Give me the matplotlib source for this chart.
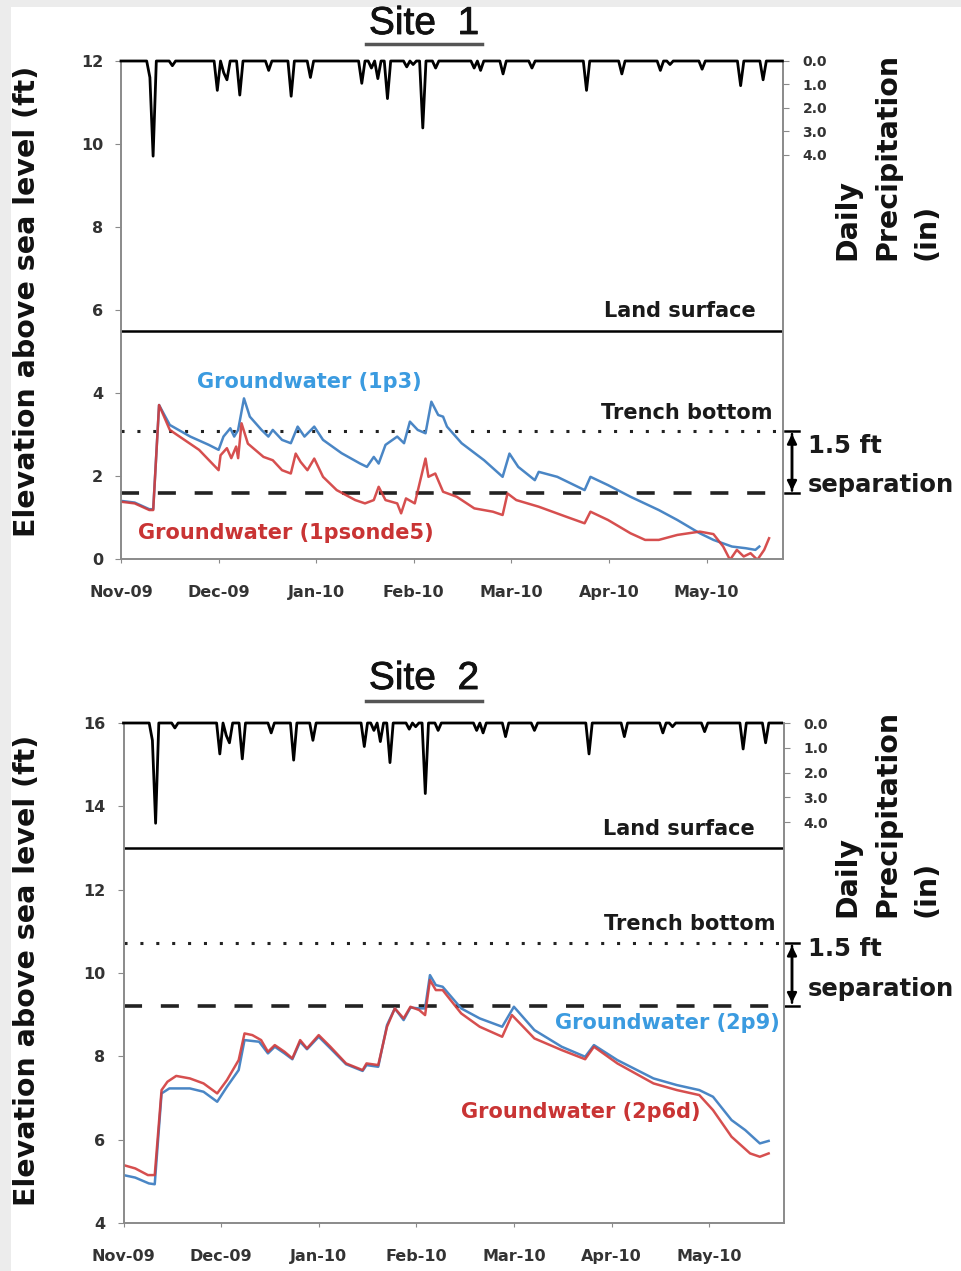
import numpy as np
import matplotlib
matplotlib.use("Agg")
import matplotlib.pyplot as plt
import matplotlib.patheffects as pe
from matplotlib.lines import Line2D
from matplotlib.patches import Rectangle

# ---------------- data ----------------
month_labels = ["Nov-09", "Dec-09", "Jan-10", "Feb-10", "Mar-10", "Apr-10", "May-10"]

# daily precipitation events: position in months after 1 Nov 2009, inches
precip_pos = [0.31, 0.34, 0.52, 0.99, 1.06, 1.09, 1.22, 1.52, 1.73, 1.93, 2.48, 2.58,
              2.62, 2.74, 2.92, 2.98, 3.10, 3.23, 3.62, 3.67, 3.90, 4.21, 4.77, 5.13,
              5.53, 5.64, 5.94, 6.35, 6.59]
precip_in = [0.7, 4.05, 0.2, 1.25, 0.5, 0.8, 1.45, 0.4, 1.5, 0.7, 0.95, 0.3,
             0.75, 1.6, 0.25, 0.15, 2.85, 0.3, 0.3, 0.4, 0.55, 0.3, 1.25, 0.55,
             0.4, 0.15, 0.35, 1.05, 0.8]

# Site 1 groundwater
s1_red_x = [0.0, 0.14, 0.29, 0.33, 0.39, 0.50, 0.65, 0.80, 1.0, 1.02, 1.085, 1.13, 1.18, 1.20,
            1.235, 1.30, 1.46, 1.555, 1.65, 1.74, 1.79, 1.84, 1.91, 1.98, 2.07, 2.21, 2.40,
            2.50, 2.59, 2.64, 2.71, 2.83, 2.87, 2.92, 3.01, 3.12, 3.15, 3.22, 3.30, 3.44,
            3.62, 3.81, 3.91, 3.96, 4.05, 4.28, 4.56, 4.75, 4.81, 4.99, 5.22, 5.37, 5.51,
            5.70, 5.93, 6.07, 6.17, 6.24, 6.31, 6.38, 6.45, 6.52, 6.59, 6.64]
s1_red_y = [1.38, 1.34, 1.18, 1.18, 3.71, 3.11, 2.87, 2.63, 2.14, 2.50, 2.67, 2.43, 2.71, 2.43,
            3.27, 2.78, 2.46, 2.38, 2.14, 2.06, 2.54, 2.34, 2.14, 2.42, 1.98, 1.66, 1.42,
            1.34, 1.42, 1.74, 1.42, 1.34, 1.10, 1.46, 1.34, 2.42, 1.98, 2.06, 1.62, 1.50,
            1.22, 1.14, 1.06, 1.58, 1.42, 1.26, 1.02, 0.86, 1.14, 0.94, 0.62, 0.46, 0.46,
            0.58, 0.66, 0.60, 0.30, -0.02, 0.22, 0.06, 0.14, -0.02, 0.22, 0.50]
s1_blue_x = [0.0, 0.14, 0.29, 0.33, 0.39, 0.50, 0.71, 0.90, 1.0, 1.05, 1.12, 1.16, 1.20, 1.26,
             1.32, 1.44, 1.51, 1.555, 1.65, 1.74, 1.81, 1.88, 1.98, 2.07, 2.26, 2.45, 2.52,
             2.59, 2.64, 2.71, 2.83, 2.90, 2.96, 3.04, 3.12, 3.18, 3.25, 3.30, 3.34, 3.49,
             3.72, 3.91, 3.98, 4.07, 4.24, 4.28, 4.47, 4.75, 4.81, 4.99, 5.22, 5.51, 5.70,
             5.93, 6.07, 6.26, 6.40, 6.50, 6.54]
s1_blue_y = [1.40, 1.36, 1.20, 1.20, 3.71, 3.23, 2.95, 2.75, 2.63, 2.95, 3.15, 2.95, 3.11, 3.87,
             3.43, 3.11, 2.95, 3.11, 2.87, 2.79, 3.19, 2.95, 3.19, 2.87, 2.55, 2.30, 2.22,
             2.46, 2.30, 2.75, 2.95, 2.79, 3.31, 3.11, 3.03, 3.79, 3.47, 3.43, 3.19, 2.79,
             2.38, 1.98, 2.54, 2.22, 1.90, 2.10, 1.98, 1.66, 1.98, 1.78, 1.50, 1.18, 0.94,
             0.62, 0.46, 0.30, 0.26, 0.22, 0.30]

# Site 2 groundwater
s2_red_x = [0.0, 0.12, 0.25, 0.32, 0.39, 0.45, 0.54, 0.68, 0.82, 0.96, 1.06, 1.18, 1.24, 1.32,
            1.41, 1.48, 1.55, 1.65, 1.73, 1.81, 1.88, 2.00, 2.12, 2.28, 2.45, 2.49, 2.61,
            2.70, 2.78, 2.87, 2.94, 3.03, 3.09, 3.14, 3.20, 3.27, 3.46, 3.65, 3.88, 3.98,
            4.21, 4.49, 4.73, 4.82, 5.06, 5.43, 5.67, 5.90, 6.04, 6.23, 6.42, 6.52, 6.61]
s2_red_y = [5.39, 5.31, 5.15, 5.15, 7.19, 7.39, 7.53, 7.47, 7.35, 7.11, 7.43, 7.91, 8.55, 8.51,
            8.39, 8.11, 8.27, 8.11, 7.95, 8.39, 8.19, 8.51, 8.23, 7.83, 7.67, 7.83, 7.79,
            8.71, 9.15, 8.91, 9.19, 9.11, 8.99, 9.83, 9.59, 9.59, 9.03, 8.71, 8.47, 8.99,
            8.43, 8.15, 7.93, 8.23, 7.83, 7.35, 7.19, 7.07, 6.71, 6.07, 5.67, 5.59, 5.67]
s2_blue_x = [0.0, 0.12, 0.26, 0.32, 0.39, 0.47, 0.68, 0.82, 0.96, 1.06, 1.18, 1.24, 1.39, 1.48,
             1.55, 1.65, 1.73, 1.81, 1.88, 2.00, 2.12, 2.28, 2.45, 2.49, 2.61, 2.70, 2.78,
             2.87, 2.94, 3.03, 3.09, 3.14, 3.20, 3.27, 3.46, 3.65, 3.88, 4.00, 4.21, 4.49,
             4.73, 4.82, 5.06, 5.43, 5.67, 5.90, 6.04, 6.23, 6.37, 6.52, 6.61]
s2_blue_y = [5.15, 5.09, 4.95, 4.93, 7.11, 7.23, 7.23, 7.15, 6.91, 7.27, 7.67, 8.39, 8.35, 8.07,
             8.23, 8.07, 7.93, 8.35, 8.17, 8.47, 8.19, 7.81, 7.65, 7.79, 7.75, 8.75, 9.15,
             8.87, 9.17, 9.15, 9.15, 9.95, 9.71, 9.67, 9.15, 8.91, 8.71, 9.19, 8.63, 8.23,
             7.99, 8.27, 7.91, 7.47, 7.31, 7.19, 7.03, 6.47, 6.23, 5.91, 5.97]

sites = [
    dict(title="Site  1", ylim=(0, 12), yticks=[0, 2, 4, 6, 8, 10, 12], land=5.5, trench=3.08,
         sep=1.58, precip_max=21.2, red=(s1_red_x, s1_red_y), blue=(s1_blue_x, s1_blue_y),
         blue_label="Groundwater (1p3)", red_label="Groundwater (1psonde5)"),
    dict(title="Site  2", ylim=(4, 16), yticks=[4, 6, 8, 10, 12, 14, 16], land=13.0, trench=10.72,
         sep=9.22, precip_max=20.2, red=(s2_red_x, s2_red_y), blue=(s2_blue_x, s2_blue_y),
         blue_label="Groundwater (2p9)", red_label="Groundwater (2p6d)"),
]

# ---------------- figure ----------------
W, H = 961, 1271
fig = plt.figure(figsize=(W / 100, H / 100), dpi=100, facecolor="#ececec")
fig.add_artist(Rectangle((11 / W, 0), 1, 1 - 7 / H, transform=fig.transFigure,
                         facecolor="white", edgecolor="none", zorder=-10))

def fx(px):
    return px / W

def fy(py):
    return 1 - py / H

BOLD = dict(family="DejaVu Sans", weight="bold")
GRAY = "#8a8a8a"
RED = "#d23c3c"
BLUE = "#4a86c5"

# daily grid for precipitation (days with no event are zero)
day_pos = np.arange(0, 6.80, 1 / 30.4)
precip_daily = np.zeros_like(day_pos)
for p, v in zip(precip_pos, precip_in):
    precip_daily[np.argmin(np.abs(day_pos - p))] = v

layout = [  # pixel boxes: left, right, top, bottom
    (121, 783, 61, 559),
    (123.5, 784, 723, 1223),
]
title_y = [24, 679]
ul_y = [44, 701]
ylabel_y = [301, 970]
right_label_bottom = [260, 917]
ann = [
    dict(land=(6.50, 5.98), trench=(6.68, 3.52), blue=(0.78, 4.27), red=(0.17, 0.63),
         blue_ha="left", red_ha="left", ft=2.72, sepy=1.78),
    dict(land=(6.47, 13.46), trench=(6.68, 11.18), blue=(6.72, 8.80), red=(5.91, 6.66),
         blue_ha="right", red_ha="right", ft=10.58, sepy=9.62),
]

for i, s in enumerate(sites):
    l, r, t, b = layout[i]
    ax = fig.add_axes([fx(l), fy(b), fx(r - l), (b - t) / H])
    xmax = (r - l) / 97.6
    ax.set_xlim(0, xmax)
    ax.set_ylim(*s["ylim"])
    ax.set_yticks(s["yticks"])
    ax.set_xticks(range(len(month_labels)))
    ax.set_xticklabels(month_labels)
    for sp in ["left", "bottom", "right"]:
        ax.spines[sp].set_color(GRAY)
        ax.spines[sp].set_linewidth(1.2)
    ax.spines["top"].set_visible(False)
    ax.tick_params(axis="y", direction="out", length=4, width=0.8, color=GRAY, pad=9,
                   labelsize=11.5)
    ax.tick_params(axis="x", direction="out", length=3, width=0.8, color=GRAY, pad=16,
                   labelsize=11.5)
    for lab in ax.get_xticklabels() + ax.get_yticklabels():
        lab.set_fontweight("bold")
        lab.set_color("#333333")

    # reference lines
    ax.axhline(s["land"], color="black", lw=1.8, zorder=2)
    ax.axhline(s["trench"], color="#222222", lw=2.2, linestyle=(0, (1, 4.2)), zorder=2)
    ax.axhline(s["sep"], color="#222222", lw=2.6, linestyle=(0, (5.0, 5.2)), zorder=2)

    # groundwater
    ax.plot(*s["blue"], color=BLUE, lw=1.8, zorder=3)
    ax.plot(*s["red"], color=RED, lw=1.8, zorder=3, alpha=0.9)

    a = ann[i]
    ax.text(a["land"][0], a["land"][1], "Land surface", ha="right", va="center",
            fontsize=15, color="#1a1a1a", **BOLD)
    ax.text(a["trench"][0], a["trench"][1], "Trench bottom", ha="right", va="center",
            fontsize=15, color="#1a1a1a", **BOLD)
    ax.text(a["blue"][0], a["blue"][1], s["blue_label"], ha=a["blue_ha"], va="center",
            fontsize=15, color="#3b9be0", **BOLD)
    ax.text(a["red"][0], a["red"][1], s["red_label"], ha=a["red_ha"], va="center",
            fontsize=15, color="#c93434", **BOLD)

    # separation arrow
    xa = (792 - l) / 97.6
    ax.annotate("", xy=(xa, s["sep"]), xytext=(xa, s["trench"]),
                arrowprops=dict(arrowstyle="-|>", color="black", lw=1.8,
                                mutation_scale=14), annotation_clip=False)
    ax.annotate("", xy=(xa, s["trench"]), xytext=(xa, s["sep"]),
                arrowprops=dict(arrowstyle="-|>", color="black", lw=1.8,
                                mutation_scale=14), annotation_clip=False)
    for yv in (s["trench"], s["sep"]):
        ax.plot([xa - 0.07, xa + 0.07], [yv, yv], color="black", lw=1.8, clip_on=False)
    xt = (808 - l) / 97.6
    ax.text(xt, a["ft"], "1.5 ft", ha="left", va="center", fontsize=17.5,
            color="#1a1a1a", clip_on=False, **BOLD)
    ax.text(xt, a["sepy"], "separation", ha="left", va="center", fontsize=17.5,
            color="#1a1a1a", clip_on=False, **BOLD)

    # precipitation on inverted secondary axis
    ax2 = ax.twinx()
    ax2.set_ylim(s["precip_max"], 0)
    ax2.set_yticks([0, 1, 2, 3, 4])
    ax2.set_yticklabels(["0.0", "1.0", "2.0", "3.0", "4.0"])
    for sp in ["left", "bottom", "right"]:
        ax2.spines[sp].set_color(GRAY)
        ax2.spines[sp].set_linewidth(1.2)
    ax2.spines["top"].set_visible(False)
    ax2.tick_params(axis="y", direction="out", length=4, width=0.8, color=GRAY, pad=10,
                    labelsize=10)
    for lab in ax2.get_yticklabels():
        lab.set_fontweight("bold")
        lab.set_color("#333333")
    ax2.plot(day_pos[day_pos <= xmax], precip_daily[day_pos <= xmax], color="black",
             lw=2.0, clip_on=False, zorder=4)
    ax2.set_xlim(0, xmax)

    # titles
    fig.text(fx(424), fy(title_y[i]), s["title"], ha="center", va="center", fontsize=28,
             family="Liberation Sans", color="#111111",
             path_effects=[pe.withStroke(linewidth=0.6, foreground="#111111")])
    fig.add_artist(Line2D([fx(366), fx(482)], [fy(ul_y[i])] * 2, color="#555555", lw=2.5))

    # axis titles
    fig.text(fx(27), fy(ylabel_y[i]), "Elevation above sea level (ft)", rotation=90,
             ha="center", va="center", fontsize=20.5, color="#111111", **BOLD)
    for xc, txt in zip([847, 887, 927], ["Daily", "Precipitation", "(in)"]):
        fig.text(fx(xc), fy(right_label_bottom[i]), txt, rotation=90, ha="center",
                 va="bottom", fontsize=20.5, color="#111111", **BOLD)

fig.savefig("out.png", dpi=100, facecolor=fig.get_facecolor())
